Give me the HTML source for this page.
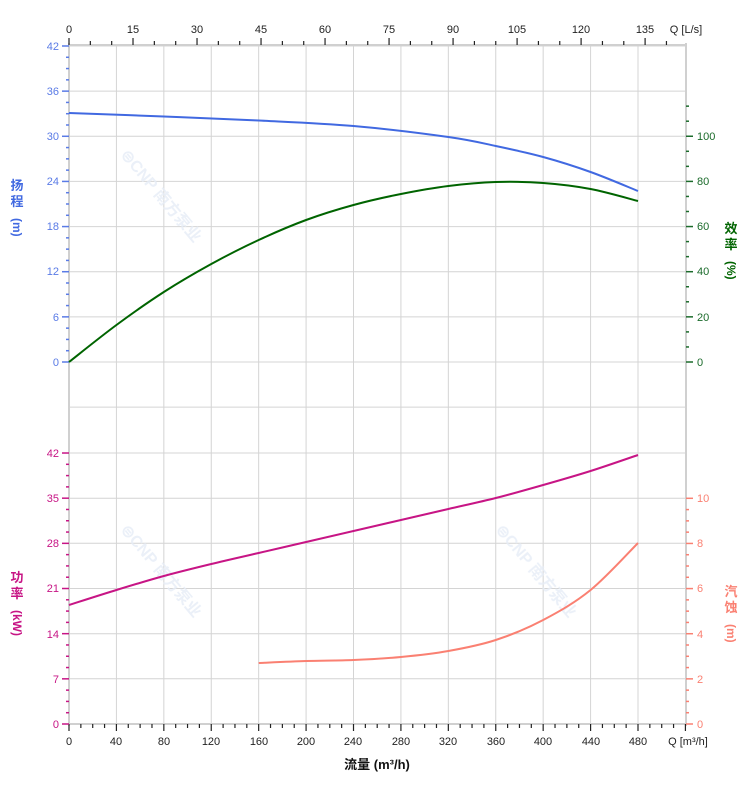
<!DOCTYPE html>
<html><head><meta charset="utf-8"><style>
html,body{margin:0;padding:0;background:#fff;}
svg{display:block;font-family:"Liberation Sans","Noto Sans CJK SC",sans-serif;}
</style></head><body>
<svg id="s" width="752" height="797" viewBox="0 0 752 797" xmlns="http://www.w3.org/2000/svg">
<g id="grid" stroke="#d4d4d4" stroke-width="1"></g>
<g fill="#e6edf7" font-size="16" font-weight="bold" opacity="0.8">
<text transform="translate(120,155) rotate(50)">⊜CNP 南方泵业</text>
<text transform="translate(120,530) rotate(50)">⊜CNP 南方泵业</text>
<text transform="translate(495,530) rotate(50)">⊜CNP 南方泵业</text>
</g>
<g id="axes"></g>
<g id="curves" fill="none" stroke-width="2"></g>
<g font-size="11" fill="#222" text-anchor="middle">
<text x="69" y="33">0</text><text x="133" y="33">15</text><text x="197" y="33">30</text><text x="261" y="33">45</text><text x="325" y="33">60</text><text x="389" y="33">75</text><text x="453" y="33">90</text><text x="517" y="33">105</text><text x="581" y="33">120</text><text x="645" y="33">135</text>
<text x="686" y="33">Q [L/s]</text>
</g>
<g font-size="11" fill="#222" text-anchor="middle">
<text x="69" y="745">0</text><text x="116" y="745">40</text><text x="164" y="745">80</text><text x="211" y="745">120</text><text x="259" y="745">160</text><text x="306" y="745">200</text><text x="353" y="745">240</text><text x="401" y="745">280</text><text x="448" y="745">320</text><text x="496" y="745">360</text><text x="543" y="745">400</text><text x="591" y="745">440</text><text x="638" y="745">480</text>
<text x="688" y="745">Q [m³/h]</text>
</g>
<text x="377" y="769" font-size="13" font-weight="bold" fill="#111" text-anchor="middle">流量 (m³/h)</text>
<g font-size="11" fill="#5a7be6" text-anchor="end">
<text x="59" y="50">42</text><text x="59" y="95">36</text><text x="59" y="140">30</text><text x="59" y="185">24</text><text x="59" y="230">18</text><text x="59" y="275">12</text><text x="59" y="321">6</text><text x="59" y="366">0</text>
</g>
<g font-size="11" fill="#c71585" text-anchor="end">
<text x="59" y="457">42</text><text x="59" y="502">35</text><text x="59" y="547">28</text><text x="59" y="592">21</text><text x="59" y="638">14</text><text x="59" y="683">7</text><text x="59" y="728">0</text>
</g>
<g font-size="11" fill="#1b6b2b">
<text x="697" y="140">100</text><text x="697" y="185">80</text><text x="697" y="230">60</text><text x="697" y="275">40</text><text x="697" y="321">20</text><text x="697" y="366">0</text>
</g>
<g font-size="11" fill="#fa8072">
<text x="697" y="502">10</text><text x="697" y="547">8</text><text x="697" y="592">6</text><text x="697" y="638">4</text><text x="697" y="683">2</text><text x="697" y="728">0</text>
</g>
<g font-size="13" font-weight="bold" text-anchor="middle">
<text x="17" y="190" fill="#4169e1">扬</text><text x="17" y="206" fill="#4169e1">程</text>
<text transform="translate(13,218) rotate(90)" fill="#4169e1" font-size="12" text-anchor="start">(m)</text>
<text x="17" y="582" fill="#c71585">功</text><text x="17" y="598" fill="#c71585">率</text>
<text transform="translate(13,610) rotate(90)" fill="#c71585" font-size="12" text-anchor="start">(kW)</text>
<text x="731" y="233" fill="#006400">效</text><text x="731" y="249" fill="#006400">率</text>
<text transform="translate(727,261) rotate(90)" fill="#006400" font-size="12" text-anchor="start">(%)</text>
<text x="731" y="596" fill="#fa8072">汽</text><text x="731" y="612" fill="#fa8072">蚀</text>
<text transform="translate(727,624) rotate(90)" fill="#fa8072" font-size="12" text-anchor="start">(m)</text>
</g>
</svg>
<script>
var NS="http://www.w3.org/2000/svg";
function el(p,t,a){var e=document.createElementNS(NS,t);for(var k in a)e.setAttribute(k,a[k]);document.getElementById(p).appendChild(e);return e;}
function X(q){return 69+q*1.18542;}
for(var q=40;q<=480;q+=40)el("grid","line",{x1:X(q),y1:46,x2:X(q),y2:724});
var hy=[46,91.1,136.3,181.4,226.6,271.7,316.9,362,407.1,453];
for(var i=0;i<hy.length;i++)el("grid","line",{x1:69,y1:hy[i],x2:686,y2:hy[i]});
[498.2,543.3,588.5,633.7,678.8].forEach(function(y){el("grid","line",{x1:69,y1:y,x2:686,y2:y});});
el("axes","line",{x1:69,y1:43,x2:69,y2:726,stroke:"#d0d0d0","stroke-width":2});
el("axes","line",{x1:686,y1:43,x2:686,y2:726,stroke:"#d0d0d0","stroke-width":2});
el("axes","line",{x1:69,y1:724,x2:686,y2:724,stroke:"#d0d0d0","stroke-width":2});
el("axes","line",{x1:69,y1:45,x2:686,y2:45,stroke:"#d0d0d0","stroke-width":2});
for(var q=0;q<=520;q+=10){var L=(q%40==0)?7:4;el("axes","line",{x1:X(q),y1:724,x2:X(q),y2:724+L,stroke:"#222","stroke-width":1.2});}
for(var s=0;s<=140;s+=5){var x=69+s*4.2675;if(x>687)break;var L=(s%15==0)?7:4;el("axes","line",{x1:x,y1:45,x2:x,y2:45-L,stroke:"#222","stroke-width":1.2});}
for(var h=0;h<=42;h+=1.5){var y=362-h*7.524;var L=(h%6==0)?7:3;el("axes","line",{x1:69-L,y1:y,x2:69,y2:y,stroke:"#5a7be6","stroke-width":1.5});}
for(var p=0;p<=42;p+=1.75){var y=724-p*6.452;var L=(p%7==0)?7:3;el("axes","line",{x1:69-L,y1:y,x2:69,y2:y,stroke:"#c71585","stroke-width":1.5});}
for(var k=0;k<=17;k++){var y=362-k*15.05;var L=(k%3==0)?7:3;el("axes","line",{x1:686,y1:y,x2:686+L,y2:y,stroke:"#1b6b2b","stroke-width":1.5});}
for(var n=0;n<=10;n+=0.5){var y=724-n*22.57;var L=(n%2==0)?7:3;el("axes","line",{x1:686,y1:y,x2:686+L,y2:y,stroke:"#fa8072","stroke-width":1.5});}
function curve(pts,col){var P=pts.map(function(p){return [X(p[0]),p[1]];});var d="M"+P[0][0]+","+P[0][1];
for(var i=0;i<P.length-1;i++){var p0=P[i-1]||P[i],p1=P[i],p2=P[i+1],p3=P[i+2]||P[i+1];
d+=" C"+(p1[0]+(p2[0]-p0[0])/6)+","+(p1[1]+(p2[1]-p0[1])/6)+" "+(p2[0]-(p3[0]-p1[0])/6)+","+(p2[1]-(p3[1]-p1[1])/6)+" "+p2[0]+","+p2[1];}
el("curves","path",{d:d,stroke:col});}
curve([[0,113],[80,116.5],[160,120.5],[240,126],[320,137],[360,146],[400,157],[440,172],[480,191]],"#4169e1");
curve([[0,362],[40,325],[80,292],[120,264],[160,240],[200,220],[240,205],[280,194],[320,186],[360,182],[400,183],[440,189],[480,201]],"#006400");
curve([[0,605],[40,590],[80,576],[120,564],[160,553],[200,542],[240,531],[280,520],[320,509],[360,498],[400,485],[440,471],[480,455]],"#c71585");
curve([[160,663],[200,661],[240,660],[280,657],[320,651],[360,640],[400,620],[440,590],[480,543]],"#fa8072");
</script>
</body></html>
